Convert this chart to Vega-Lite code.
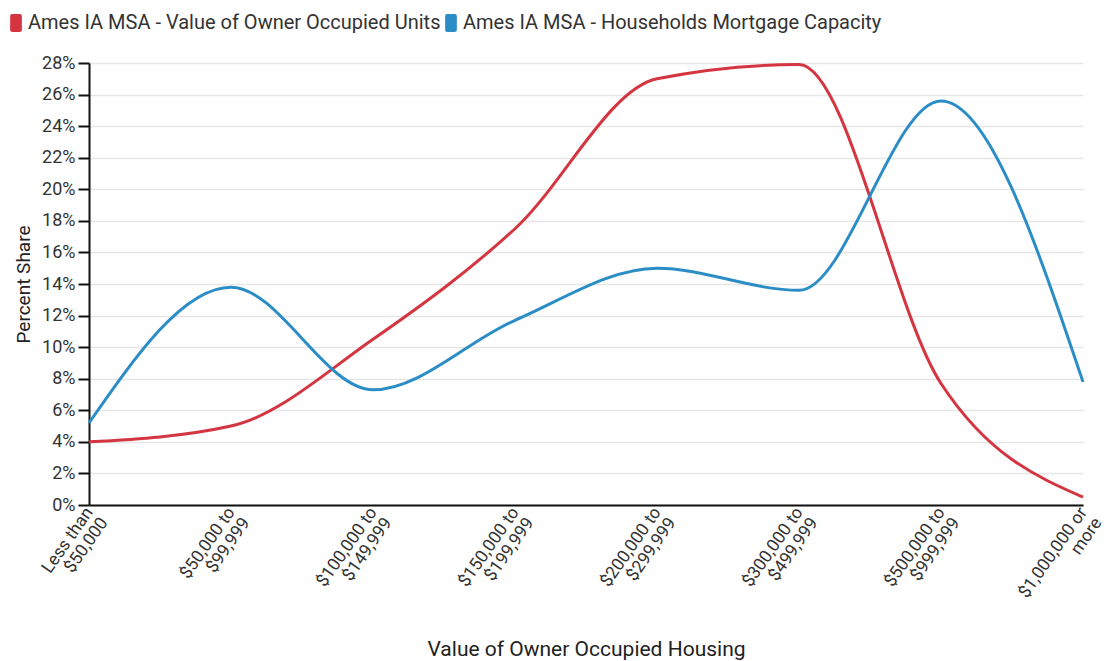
{
  "$schema": "https://vega.github.io/schema/vega-lite/v6.json",
  "width": 994,
  "height": 442,
  "autosize": {"type": "none"},
  "padding": {"left": 89, "top": 63, "right": 26, "bottom": 156},
  "config": {
    "font": "Roboto",
    "view": {"stroke": null},
    "axis": {"labelFont": "Roboto", "titleFont": "Roboto", "labelColor": "#333", "titleColor": "#222", "titleFontWeight": "normal"}
  },
  "data": {
    "values": [
      {"bin": "Less than $50,000", "series": "Ames IA MSA - Value of Owner Occupied Units", "v": 0.040},
      {"bin": "$50,000 to $99,999", "series": "Ames IA MSA - Value of Owner Occupied Units", "v": 0.050},
      {"bin": "$100,000 to $149,999", "series": "Ames IA MSA - Value of Owner Occupied Units", "v": 0.105},
      {"bin": "$150,000 to $199,999", "series": "Ames IA MSA - Value of Owner Occupied Units", "v": 0.175},
      {"bin": "$200,000 to $299,999", "series": "Ames IA MSA - Value of Owner Occupied Units", "v": 0.270},
      {"bin": "$300,000 to $499,999", "series": "Ames IA MSA - Value of Owner Occupied Units", "v": 0.279},
      {"bin": "$500,000 to $999,999", "series": "Ames IA MSA - Value of Owner Occupied Units", "v": 0.077},
      {"bin": "$1,000,000 or more", "series": "Ames IA MSA - Value of Owner Occupied Units", "v": 0.005},
      {"bin": "Less than $50,000", "series": "Ames IA MSA - Households Mortgage Capacity", "v": 0.052},
      {"bin": "$50,000 to $99,999", "series": "Ames IA MSA - Households Mortgage Capacity", "v": 0.138},
      {"bin": "$100,000 to $149,999", "series": "Ames IA MSA - Households Mortgage Capacity", "v": 0.073},
      {"bin": "$150,000 to $199,999", "series": "Ames IA MSA - Households Mortgage Capacity", "v": 0.117},
      {"bin": "$200,000 to $299,999", "series": "Ames IA MSA - Households Mortgage Capacity", "v": 0.150},
      {"bin": "$300,000 to $499,999", "series": "Ames IA MSA - Households Mortgage Capacity", "v": 0.136},
      {"bin": "$500,000 to $999,999", "series": "Ames IA MSA - Households Mortgage Capacity", "v": 0.256},
      {"bin": "$1,000,000 or more", "series": "Ames IA MSA - Households Mortgage Capacity", "v": 0.078}
    ]
  },
  "mark": {"type": "line", "interpolate": "monotone", "strokeWidth": 3},
  "encoding": {
    "x": {
      "field": "bin", "type": "nominal", "sort": null,
      "scale": {"type": "point", "padding": 0},
      "axis": {
        "title": "Value of Owner Occupied Housing",
        "titleFontSize": 21, "titlePadding": 28,
        "labelAngle": -55, "labelFontSize": 17.5, "labelPadding": 4,
        "labelExpr": "datum.value == 'Less than $50,000' ? ['Less than', '$50,000'] : datum.value == '$1,000,000 or more' ? ['$1,000,000 or', 'more'] : [slice(datum.value, 0, indexof(datum.value, ' to') + 3), slice(datum.value, indexof(datum.value, ' to') + 4)]",
        "ticks": false, "domainColor": "#111", "domainWidth": 2, "grid": false, "labelLineHeight": 18
      }
    },
    "y": {
      "field": "v", "type": "quantitative",
      "scale": {"domain": [0, 0.28], "nice": false},
      "axis": {
        "title": "Percent Share", "titleFontSize": 19, "titlePadding": 8,
        "format": ".0%", "values": [0,0.02,0.04,0.06,0.08,0.1,0.12,0.14,0.16,0.18,0.2,0.22,0.24,0.26,0.28],
        "labelFontSize": 18, "tickColor": "#111", "tickSize": 11, "tickWidth": 2, "labelPadding": 3,
        "domainColor": "#111", "domainWidth": 2, "gridColor": "#e6e6e6", "gridWidth": 1.5
      }
    },
    "color": {
      "field": "series", "type": "nominal",
      "scale": {"domain": ["Ames IA MSA - Value of Owner Occupied Units", "Ames IA MSA - Households Mortgage Capacity"], "range": ["#d43540", "#2b8dc5"]},
      "legend": {
        "title": null, "orient": "none", "direction": "horizontal", "legendX": -83, "legendY": -50,
        "labelFontSize": 20, "labelColor": "#333", "labelFont": "Roboto", "labelLimit": 600,
        "symbolType": "M-0.65,-0.78 Q-0.65,-1 -0.43,-1 L0.43,-1 Q0.65,-1 0.65,-0.78 L0.65,0.78 Q0.65,1 0.43,1 L-0.43,1 Q-0.65,1 -0.65,0.78 Z",
        "symbolSize": 324, "symbolStrokeWidth": 0, "symbolOffset": 0, "labelOffset": 2, "columnPadding": -5,
        "encode": {"symbols": {"update": {"fill": {"scale": "color", "field": "value"}, "opacity": {"value": 1}, "size": {"value": 324}, "strokeWidth": {"value": 0}}}}
      }
    }
  }
}
